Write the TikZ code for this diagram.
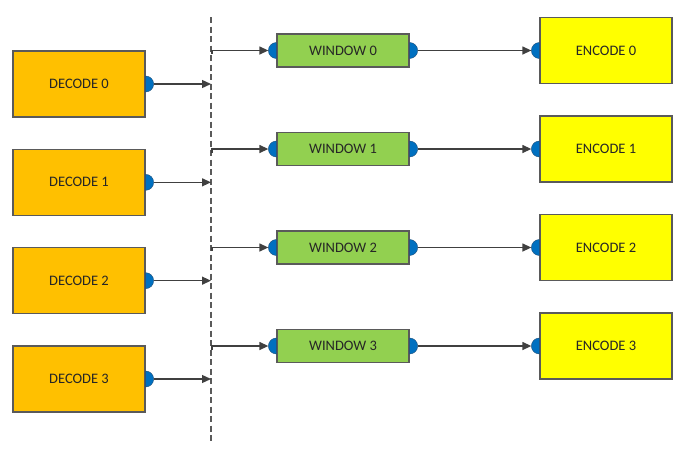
\documentclass[tikz,border=0pt]{standalone}
\usepackage{fontspec}
\setmainfont{Carlito}
\usetikzlibrary{arrows.meta}
\definecolor{decfill}{HTML}{FFC000}
\definecolor{encfill}{HTML}{FFFF00}
\definecolor{winfill}{HTML}{92D050}
\definecolor{portc}{HTML}{0070C0}
\definecolor{portd}{HTML}{1F4E79}
\definecolor{edge}{HTML}{5A5A5A}
\definecolor{linec}{HTML}{404040}
\definecolor{txt}{HTML}{262626}
\tikzset{
  box/.style={draw=edge, line width=1.3pt, minimum width=132pt, inner sep=0pt,
    font=\fontsize{14.5}{16}\selectfont, text=txt},
  decbox/.style={box, fill=decfill, minimum height=66pt},
  encbox/.style={box, fill=encfill, minimum height=66pt},
  winbox/.style={box, fill=winfill, minimum height=33pt},
  port/.style={fill=portc, draw=portd, line width=0.4pt},
  arr/.style={draw=linec, line width=1.3pt, -{Triangle[length=9pt,width=8pt]}},
  dashln/.style={draw=edge, line width=1.5pt, dash pattern=on 6pt off 3.5pt}
}
\begin{document}
\begin{tikzpicture}[x=1pt,y=-1pt]
\useasboundingbox (0,0) rectangle (700,453);
\coordinate (dtop) at (211,17);
\coordinate (dbot) at (211,442);
\draw[dashln] (dtop) -- (dbot);
\foreach \i in {0,1,2,3}{
  \node[decbox] (d\i) at (79,{84+98.33*\i}) {DECODE \i};
  \node[winbox] (w\i) at (343,{50.5+98.5*\i}) {WINDOW \i};
  \node[encbox] (e\i) at (606,{50.5+98.5*\i}) {ENCODE \i};
  % ports
  \filldraw[port] ([yshift=8pt]d\i.east) arc[start angle=90,end angle=-90,radius=8pt] -- cycle;
  \filldraw[port] ([yshift=8pt]w\i.west) arc[start angle=90,end angle=270,radius=8pt] -- cycle;
  \filldraw[port] ([yshift=8pt]w\i.east) arc[start angle=90,end angle=-90,radius=8pt] -- cycle;
  \filldraw[port] ([yshift=8pt]e\i.west) arc[start angle=90,end angle=270,radius=8pt] -- cycle;
  % connectors
  \draw[arr] ([xshift=8pt]d\i.east) -- (d\i.east -| dtop);
  \draw[arr] ([yshift=-3.5pt,xshift=1pt]w\i.west -| dtop) |- ([xshift=-8pt]w\i.west);
  \draw[arr] ([xshift=8pt]w\i.east) -- ([xshift=-8pt]e\i.west);
}
\end{tikzpicture}
\end{document}
